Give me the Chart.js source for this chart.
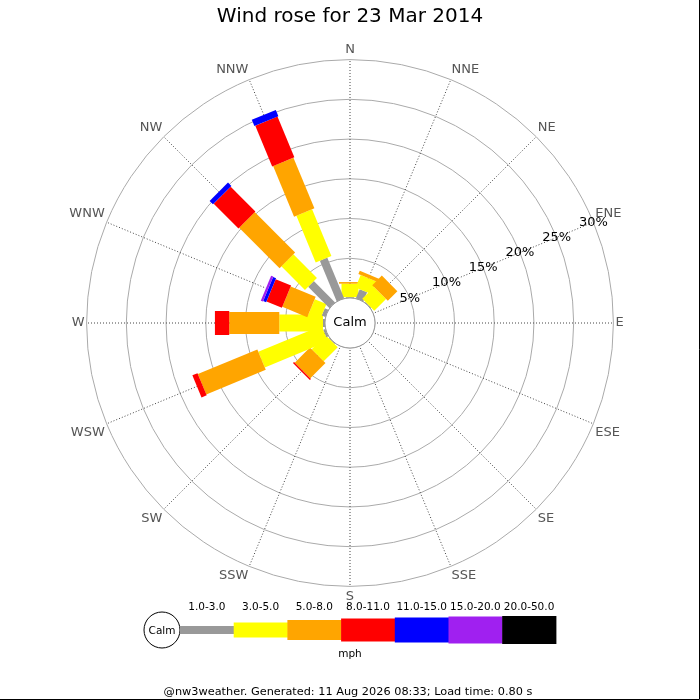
<!DOCTYPE html>
<html>
<head>
<meta charset="utf-8">
<title>Wind rose for 23 Mar 2014</title>
<script src="https://cdn.jsdelivr.net/npm/chart.js@4.4.1/dist/chart.umd.min.js"></script>
<style>
  html, body { margin: 0; padding: 0; background: #fff; }
  #wrap { width: 700px; height: 700px; }
</style>
</head>
<body>
<div id="wrap"><canvas id="rose" width="700" height="700"></canvas></div>
<script>
// compass points, clockwise from north
const directions = ["N", "NNE", "NE", "ENE", "E", "ESE", "SE", "SSE", "S", "SSW", "SW", "WSW", "W", "WNW", "NW", "NNW"];

// speed classes (mph)
const speedBins = ["1.0-3.0", "3.0-5.0", "5.0-8.0", "8.0-11.0", "11.0-15.0", "15.0-20.0", "20.0-50.0"];

// % of the day from each direction, one array per speed class
const bin1to3   = [0.1, 1.25, 0.1, 0, 0, 0, 0, 0, 0, 0, 0.1, 0.3, 0.25, 0.5, 3.8, 5.55];
const bin3to5   = [1.7, 1.7, 2.1, 0, 0, 0, 0, 0, 0, 0, 2.5, 8.6, 5.5, 1.6, 4.2, 6.35];
const bin5to8   = [0.2, 0.45, 1.7, 0, 0, 0, 0, 0, 0, 0, 2.7, 8.1, 6.3, 3.4, 7.2, 6.9];
const bin8to11  = [0, 0, 0, 0, 0, 0, 0, 0, 0, 0, 0.2, 0.7, 1.8, 2.1, 4.4, 5.55];
const bin11to15 = [0, 0, 0, 0, 0, 0, 0, 0, 0, 0, 0, 0, 0, 0.4, 0.6, 0.85];
const bin15to20 = [0, 0, 0, 0, 0, 0, 0, 0, 0, 0, 0, 0, 0, 0.3, 0, 0];
const bin20to50 = [0, 0, 0, 0, 0, 0, 0, 0, 0, 0, 0, 0, 0, 0, 0, 0];

// rings of the radial axis (%)
const pctTicks = [0, 5, 10, 15, 20, 25, 30];

const binColours = ["#999999", "#ffff00", "#ffa500", "#ff0000", "#0000ff", "#a020f0", "#000000"];
const barWidths = [8, 17, 22, 24, 26, 27, 28];
const keyHeights = [8, 15, 20, 23, 25, 27, 28];
const FONT = '"DejaVu Sans", Verdana, sans-serif';

const binData = [bin1to3, bin3to5, bin5to8, bin8to11, bin11to15, bin15to20, bin20to50];

// stacked bars along each spoke + calm circle + % labels
const roseBars = {
    id: "roseBars",
    afterDatasetsDraw(chart) {
        const r = chart.scales.r;
        const ctx = chart.ctx;

        directions.forEach((d, i) => {
            const angle = r.getIndexAngle(i);
            let base = 0;
            chart.data.datasets.forEach((ds, b) => {
                const v = ds.data[i];
                if (!v) return;
                const r0 = r.getDistanceFromCenterForValue(base);
                const r1 = r.getDistanceFromCenterForValue(base + v);
                base += v;
                ctx.save();
                ctx.translate(r.xCenter, r.yCenter);
                ctx.rotate(angle);
                ctx.fillStyle = ds.backgroundColor;
                ctx.fillRect(-barWidths[b] / 2, -r1, barWidths[b], r1 - r0);
                ctx.restore();
            });
        });

        // calm hole
        const calmR = r.getDistanceFromCenterForValue(0);
        ctx.save();
        ctx.beginPath();
        ctx.arc(r.xCenter, r.yCenter, calmR, 0, Math.PI * 2);
        ctx.fillStyle = "#fff";
        ctx.fill();
        ctx.strokeStyle = "#999";
        ctx.lineWidth = 1;
        ctx.stroke();
        ctx.fillStyle = "#000";
        ctx.font = "13px " + FONT;
        ctx.textAlign = "center";
        ctx.textBaseline = "middle";
        ctx.fillText("Calm", r.xCenter, r.yCenter);

        // % labels along the ENE spoke
        pctTicks.slice(1).forEach((v) => {
            const p = r.getPointPosition(3, r.getDistanceFromCenterForValue(v));
            ctx.fillText(v + "%", p.x, p.y);
        });
        ctx.restore();
    },
    afterDraw(chart) {
        const ctx = chart.ctx;
        const ly = 630, lx = 180, seg = 53.7;
        ctx.save();
        ctx.textAlign = "center";
        ctx.textBaseline = "middle";

        // key
        ctx.beginPath();
        ctx.arc(162, ly, 18, 0, Math.PI * 2);
        ctx.fillStyle = "#fff";
        ctx.fill();
        ctx.strokeStyle = "#000";
        ctx.lineWidth = 1;
        ctx.stroke();
        ctx.fillStyle = "#000";
        ctx.font = "10.5px " + FONT;
        ctx.fillText("Calm", 162, ly + 1);

        speedBins.forEach((lab, b) => {
            const x = lx + b * seg;
            ctx.fillStyle = binColours[b];
            ctx.fillRect(x, ly - keyHeights[b] / 2, seg + 0.5, keyHeights[b]);
            ctx.fillStyle = "#000";
            ctx.fillText(lab, x + seg / 2, 607);
        });
        ctx.fillText("mph", 350, 654);

        ctx.font = "11.3px " + FONT;
        ctx.fillText("@nw3weather. Generated: 11 Aug 2026 08:33; Load time: 0.80 s", 348, 692);

        // frame on right and bottom
        ctx.strokeStyle = "#000";
        ctx.beginPath();
        ctx.moveTo(699.5, 0);
        ctx.lineTo(699.5, 699.5);
        ctx.lineTo(0, 699.5);
        ctx.stroke();
        ctx.restore();
    }
};

new Chart(document.getElementById("rose"), {
    type: "radar",
    data: {
        labels: directions,
        datasets: speedBins.map((lab, b) => ({
            label: lab,
            data: binData[b],
            backgroundColor: binColours[b],
            borderWidth: 0,
            fill: false,
            showLine: false,
            pointRadius: 0,
            pointHoverRadius: 0
        }))
    },
    options: {
        responsive: false,
        animation: false,
        events: [],
        layout: { padding: { top: 0, bottom: 95, left: 0, right: 0 } },
        plugins: {
            legend: { display: false },
            tooltip: { enabled: false },
            title: {
                display: true,
                text: "Wind rose for 23 Mar 2014",
                color: "#000",
                font: { family: FONT, size: 20, weight: "normal" },
                padding: { top: 5, bottom: 14 }
            }
        },
        scales: {
            r: {
                min: -3.15,
                max: 30,
                afterBuildTicks: (scale) => {
                    scale.ticks = pctTicks.map((v) => ({ value: v }));
                },
                ticks: { display: false },
                grid: { circular: true, color: "#aaa", lineWidth: 1 },
                angleLines: { color: "#444", lineWidth: 1, borderDash: [1, 2] },
                pointLabels: {
                    color: "#555",
                    padding: 2,
                    font: { family: FONT, size: 13 }
                }
            }
        }
    },
    plugins: [roseBars]
});
</script>
</body>
</html>
